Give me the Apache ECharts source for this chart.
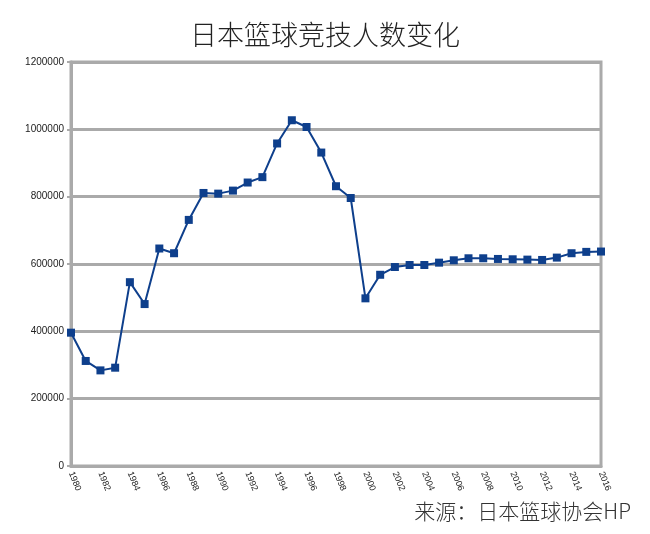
<!DOCTYPE html>
<html>
<head>
<meta charset="utf-8">
<script src="https://cdn.jsdelivr.net/npm/echarts@6/dist/echarts.min.js"></script>
<style>html,body{margin:0;padding:0;background:#fff;}#c{width:650px;height:534px;}</style>
</head>
<body>
<div id="c"></div>
<script>
const years = ['1980','1981','1982','1983','1984','1985','1986','1987','1988','1989','1990','1991','1992','1993','1994','1995','1996','1997','1998','1999','2000','2001','2002','2003','2004','2005','2006','2007','2008','2009','2010','2011','2012','2013','2014','2015','2016'];
const players = [396000,312000,284000,292000,546000,481000,646000,632000,731000,811000,809000,818000,842000,858000,958000,1027000,1007000,931000,831000,796000,498000,568000,591000,597000,597000,604000,611000,617000,617000,615000,614000,613000,612000,619000,632000,636000,637000];
const titleText = '日本篮球竞技人数变化';
const sourceText = '来源：日本篮球协会HP';

const chart = echarts.init(document.getElementById('c'), null, {renderer:'canvas'});
chart.setOption({
  backgroundColor:'#ffffff',
  animation:false,
  title:[{
    text:titleText, left:'center', top:16,
    textStyle:{fontFamily:'Noto Sans CJK SC', fontWeight:300, fontSize:27, color:'#222'}
  },{
    text:sourceText, right:14, top:496,
    textStyle:{fontFamily:'Noto Sans CJK SC', fontWeight:300, fontSize:21, color:'#333'}
  }],
  grid:{left:71, right:49, top:62, bottom:68, show:true, borderColor:'#aaaaaa', borderWidth:3, backgroundColor:'transparent'},
  xAxis:{
    type:'category', data:years, boundaryGap:false,
    axisLine:{lineStyle:{color:'#aaaaaa', width:3}},
    axisTick:{show:false},
    splitLine:{show:false},
    axisLabel:{interval:1, rotate:-68, margin:6, fontFamily:'Liberation Sans', fontSize:9, color:'#222'}
  },
  yAxis:{
    type:'value', min:0, max:1200000, interval:200000,
    axisLine:{show:true, lineStyle:{color:'#aaaaaa', width:3}},
    axisTick:{show:true, length:4, lineStyle:{color:'#aaaaaa', width:2}},
    splitLine:{lineStyle:{color:'#aaaaaa', width:3}},
    axisLabel:{margin:7, fontFamily:'Liberation Sans', fontSize:10, color:'#222', formatter:function(v){return String(v);}}
  },
  series:[{
    type:'line', data:players,
    symbol:'rect', symbolSize:8,
    lineStyle:{color:'#0e3f8c', width:2},
    itemStyle:{color:'#0e3f8c'}
  }]
});
</script>
</body>
</html>
